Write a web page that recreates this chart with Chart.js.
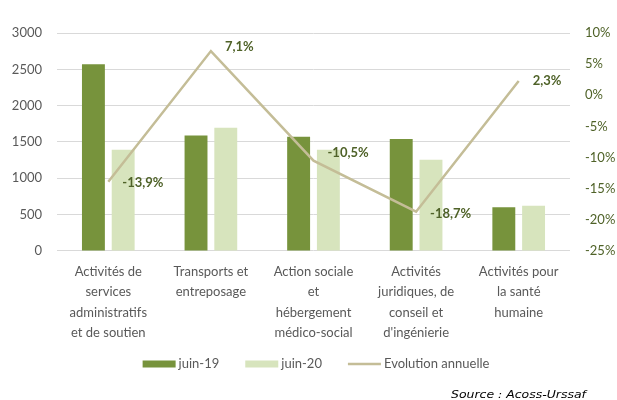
<!DOCTYPE html>
<html>
<head>
<meta charset="utf-8">
<script src="https://cdn.jsdelivr.net/npm/chart.js@4"></script>
<style>
  html, body { margin: 0; padding: 0; background: #ffffff; }
  #wrap { position: relative; width: 617px; height: 400px; }
</style>
</head>
<body>
<div id="wrap"><canvas id="c" width="617" height="400"></canvas></div>
<script>
const categories = [
  ["Activités de", "services", "administratifs", "et de soutien"],
  ["Transports et", "entreposage"],
  ["Action sociale", "et", "hébergement", "médico-social"],
  ["Activités", "juridiques, de", "conseil et", "d'ingénierie"],
  ["Activités pour", "la santé", "humaine"]
];
const juin19 = [2570, 1590, 1573, 1541, 600];
const juin20 = [1392, 1695, 1392, 1256, 620];
const evolution = [-13.9, 7.1, -10.5, -18.7, 2.3];
const seriesNames = ["juin-19", "juin-20", "Evolution annuelle"];
const leftTicks = [0, 500, 1000, 1500, 2000, 2500, 3000];
const rightTicks = [-25, -20, -15, -10, -5, 0, 5, 10];
const sourceText = "Source : Acoss-Urssaf";

const FONT = "Lato, 'Liberation Sans', sans-serif";
const C_DARK = "#77933C";
const C_LIGHT = "#D7E4BD";
const C_LINE = "#C4BD97";
const C_LABEL = "#4F6228";
const C_TEXT = "#595959";

const labelPlugin = {
  id: "lineLabels",
  afterDatasetsDraw(chart, args, opts) {
    const meta = chart.getDatasetMeta(2);
    const ctx = chart.ctx;
    ctx.save();
    ctx.font = "bold 13px " + FONT;
    ctx.fillStyle = C_LABEL;
    ctx.textAlign = "left";
    ctx.textBaseline = "middle";
    meta.data.forEach((pt, i) => {
      const v = evolution[i];
      const txt = v.toFixed(1).replace(".", ",") + "%";
      ctx.fillText(txt, pt.x + opts.dx, pt.y + opts.dy[i]);
    });
    ctx.restore();
  },
  afterDraw(chart, args, opts) {
    const ctx = chart.ctx;
    // custom legend
    ctx.save();
    ctx.font = "13px " + FONT;
    ctx.textBaseline = "middle";
    ctx.textAlign = "left";
    const sw = 33, gapT = 3, gapI = 26, y = opts.legendY;
    const items = chart.data.datasets.map(ds => ({ ds, w: sw + gapT + ctx.measureText(ds.label).width }));
    const total = items.reduce((s, it) => s + it.w, 0) + gapI * (items.length - 1);
    let x = opts.legendCenter - total / 2;
    items.forEach(it => {
      const ds = it.ds;
      if (ds.type === "line") {
        ctx.strokeStyle = ds.borderColor;
        ctx.lineWidth = ds.borderWidth;
        ctx.beginPath();
        ctx.moveTo(x, y);
        ctx.lineTo(x + sw, y);
        ctx.stroke();
      } else {
        ctx.fillStyle = ds.backgroundColor;
        ctx.fillRect(x, y - 3.5, sw, 7);
      }
      ctx.fillStyle = C_TEXT;
      ctx.fillText(ds.label, x + sw + gapT, y);
      x += it.w + gapI;
    });
    ctx.restore();
    // source
    ctx.save();
    ctx.font = "italic 10px 'DejaVu Sans', sans-serif";
    ctx.fillStyle = "#000000";
    ctx.textAlign = "left";
    ctx.textBaseline = "middle";
    const w = ctx.measureText(sourceText).width;
    ctx.translate(451, 395);
    ctx.scale(135 / w, 1);
    ctx.fillText(sourceText, 0, 0);
    ctx.restore();
  }
};

new Chart(document.getElementById("c"), {
  data: {
    labels: categories,
    datasets: [
      { type: "bar", label: seriesNames[0], data: juin19, backgroundColor: C_DARK,
        yAxisID: "y", order: 1, categoryPercentage: 0.58, barPercentage: 0.77, borderWidth: 0 },
      { type: "bar", label: seriesNames[1], data: juin20, backgroundColor: C_LIGHT,
        yAxisID: "y", order: 1, categoryPercentage: 0.58, barPercentage: 0.77, borderWidth: 0 },
      { type: "line", label: seriesNames[2], data: evolution, borderColor: C_LINE, backgroundColor: C_LINE,
        borderWidth: 2.5, pointRadius: 0, tension: 0, yAxisID: "y1", order: 0 }
    ]
  },
  options: {
    responsive: false,
    animation: false,
    layout: { padding: { top: 33, left: 10, right: 0, bottom: 46 } },
    scales: {
      x: {
        grid: { display: false, drawTicks: false },
        border: { display: false },
        ticks: { color: C_TEXT, font: { family: FONT, size: 13, lineHeight: 1.56 }, padding: 11, maxRotation: 0, autoSkip: false }
      },
      y: {
        position: "left",
        min: 0, max: 3000,
        afterBuildTicks(axis) { axis.ticks = leftTicks.map(v => ({ value: v })); },
        afterFit(axis) { axis.width = 47; },
        grid: { color: "#D9D9D9", lineWidth: 1, drawTicks: false },
        border: { display: false },
        ticks: { color: C_TEXT, font: { family: FONT, size: 13 }, padding: 15, callback: v => String(v) }
      },
      y1: {
        position: "right",
        min: -25, max: 10,
        afterBuildTicks(axis) { axis.ticks = rightTicks.map(v => ({ value: v })); },
        afterFit(axis) { axis.width = 47; },
        grid: { display: false, drawTicks: false },
        border: { display: false },
        ticks: { color: C_LABEL, font: { family: FONT, size: 13 }, padding: 15, callback: v => v + "%" }
      }
    },
    plugins: {
      legend: { display: false },
      tooltip: { enabled: false },
      lineLabels: { dx: 14, dy: [1, -4, -8, 2, 0], legendY: 364, legendCenter: 316 }
    }
  },
  plugins: [labelPlugin]
});
</script>
</body>
</html>
